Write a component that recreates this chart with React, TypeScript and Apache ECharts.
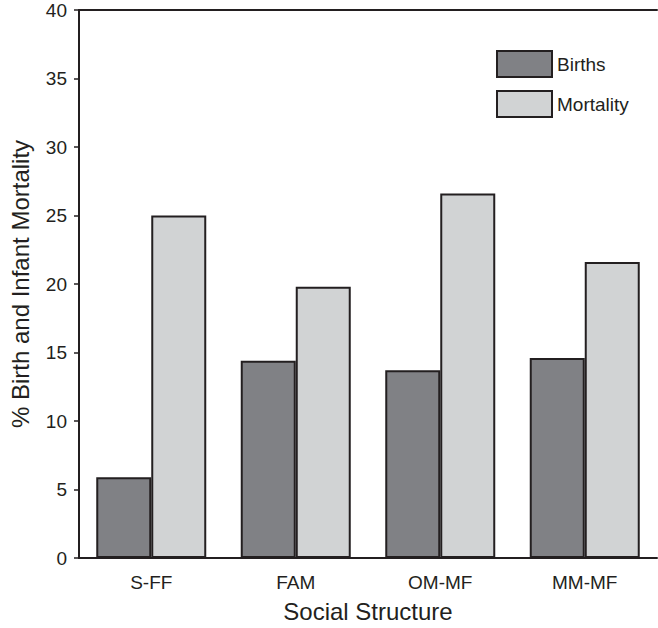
import React, { useEffect, useRef } from "react";
import * as echarts from "echarts";

const categories = ["S-FF", "FAM", "OM-MF", "MM-MF"];
const births = [5.9, 14.4, 13.7, 14.6];
const mortality = [25.0, 19.8, 26.6, 21.6];
const seriesNames = ["Births", "Mortality"];
const yAxisName = "% Birth and Infant Mortality";
const xAxisName = "Social Structure";

const FONT = "'Liberation Sans', Arial, Helvetica, sans-serif";
const INK = "#231f20";

export default function App() {
  const ref = useRef<HTMLDivElement>(null);
  useEffect(() => {
    if (!ref.current) return;
    const chart = echarts.init(ref.current, undefined, { renderer: "svg" });
    chart.setOption({
      animation: false,
      backgroundColor: "#ffffff",
      textStyle: { fontFamily: FONT, color: INK },
      grid: { left: 79, right: 1, top: 10, bottom: 65, containLabel: false },
      legend: {
        orient: "vertical",
        left: 491,
        top: 45,
        itemWidth: 55,
        itemHeight: 26,
        itemGap: 12,
        icon: "rect",
        data: seriesNames,
        itemStyle: { borderColor: INK, borderWidth: 2 },
        textStyle: { fontFamily: FONT, fontSize: 19, color: INK },
      },
      xAxis: [
        {
          type: "category",
          data: categories,
          position: "bottom",
          axisLine: { show: true, lineStyle: { color: INK, width: 2 } },
          axisTick: { show: false },
          axisLabel: { fontFamily: FONT, fontSize: 19, color: INK, margin: 15 },
          name: xAxisName,
          nameLocation: "middle",
          nameGap: 41,
          nameTextStyle: { fontFamily: FONT, fontSize: 24, color: INK },
        },
        {
          type: "category",
          data: categories,
          position: "top",
          axisLine: { show: true, lineStyle: { color: INK, width: 2 } },
          axisTick: { show: false },
          axisLabel: { show: false },
        },
      ],
      yAxis: {
        type: "value",
        min: 0,
        max: 40,
        interval: 5,
        axisLine: { show: true, lineStyle: { color: INK, width: 2 } },
        axisTick: { show: true, length: 5, inside: false, lineStyle: { color: INK, width: 1.5 } },
        splitLine: { show: false },
        axisLabel: { fontFamily: FONT, fontSize: 19, color: INK, margin: 12 },
        name: yAxisName,
        nameLocation: "middle",
        nameGap: 47,
        nameTextStyle: { fontFamily: FONT, fontSize: 24, color: INK },
      },
      series: [
        {
          name: seriesNames[0],
          type: "bar",
          data: births,
          barWidth: 55,
          barGap: "0%",
          itemStyle: { color: "#808185", borderColor: INK, borderWidth: 2 },
        },
        {
          name: seriesNames[1],
          type: "bar",
          data: mortality,
          barWidth: 55,
          barGap: "0%",
          itemStyle: { color: "#d1d3d4", borderColor: INK, borderWidth: 2 },
        },
      ],
    });
    return () => chart.dispose();
  }, []);
  return (
    <div
      ref={ref}
      style={{ position: "fixed", left: 0, top: 0, width: 658, height: 628 }}
    />
  );
}
